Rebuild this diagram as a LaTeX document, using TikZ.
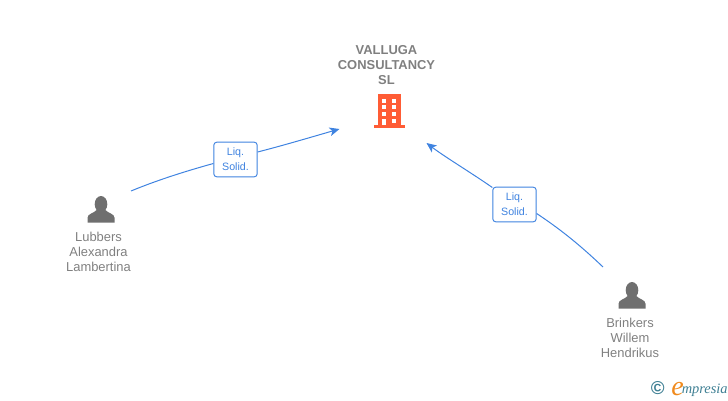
\documentclass[tikz,border=0pt]{standalone}
\usepackage{fontspec}
\setmainfont{Liberation Sans}
\newfontfamily\logofont{Liberation Serif}
\usetikzlibrary{arrows.meta}
\definecolor{linkblue}{HTML}{3F83E0}
\definecolor{labelgrey}{HTML}{808080}
\definecolor{titlegrey}{HTML}{7F7F7F}
\definecolor{persongrey}{HTML}{6F6F6F}
\definecolor{buildorange}{HTML}{FF5C35}
\definecolor{logoteal}{HTML}{3E7F93}
\definecolor{logoorange}{HTML}{F08A1D}
\tikzset{
  px/.style={x=0.75pt,y=-0.75pt},
  link/.style={draw=linkblue,line width=0.75pt},
  linkend/.style={link,-{Stealth[length=7.5pt,width=6.5pt,inset=2pt]}},
  rolebox/.style={draw=linkblue,line width=0.7pt,rounded corners=2.2pt,fill=white,minimum width=32.5pt,minimum height=26pt,inner sep=0pt,align=center,text=linkblue,font=\fontsize{8}{11.2}\selectfont},
  personlabel/.style={align=center,text=labelgrey,inner sep=0pt,font=\fontsize{9.7}{11.2}\selectfont},
  titlelabel/.style={align=center,text=titlegrey,inner sep=0pt,font=\bfseries\fontsize{9.7}{11.2}\selectfont},
  logotext/.style={inner sep=0pt,anchor=base west,text=logoteal},
}
\newcommand{\personicon}[2]{%
  \fill[persongrey,shift={(#1,#2)}] (0,-18.5) ellipse (6.3 and 8.2);
  \fill[persongrey,shift={(#1,#2)}] (-13.5,0) -- (-13.5,-5) .. controls (-13.5,-9) and (-7,-9.5) .. (-4,-13)
    -- (4,-13) .. controls (7,-9.5) and (13.5,-9) .. (13.5,-5) -- (13.5,0) -- cycle;
}
\begin{document}
\begin{tikzpicture}[px]
\useasboundingbox (0,0) rectangle (728,400);
% building
\fill[buildorange] (378,94) rectangle (401,125);
\fill[buildorange] (373.5,125) rectangle (405,128);
\foreach \yy in {98.5,105,112}{
  \fill[white] (381.7,\yy) rectangle +(4.3,4);
  \fill[white] (391.7,\yy) rectangle +(4.3,4);
}
\fill[white] (381.7,118.5) rectangle (386,125);
\fill[white] (391.7,118.5) rectangle (396,122.5);
% title
\node[titlelabel] (company) at (386.5,65) {VALLUGA\\CONSULTANCY\\SL};
% people
\personicon{101}{222.7}
\personicon{632}{308.7}
\node[personlabel] (lubbers) at (98.5,252) {Lubbers\\Alexandra\\Lambertina};
\node[personlabel] (brinkers) at (630,338) {Brinkers\\Willem\\Hendrikus};
% connector ends
\coordinate (lstart) at (131,191);
\coordinate (lend) at (339.5,129);
\coordinate (rstart) at (603,267);
\coordinate (rend) at (426.5,143);
% role boxes
\node[rolebox] (lrole) at (235.5,159.5) {Liq.\\Solid.};
\node[rolebox] (rrole) at (514.5,204.5) {Liq.\\Solid.};
% connectors
\draw[link] (lstart) .. controls (160,179) and (190,170) .. (lrole.west |- 0,163.5);
\draw[linkend] (lrole.east |- 0,152) .. controls (285,145) and (315,136) .. (lend);
\draw[link] (rstart) .. controls (580,245) and (560,229) .. (rrole.east |- 0,213.5);
\draw[linkend] (rrole.west |- 0,187.5) .. controls (470,172) and (445,157) .. (rend);
% logo
\node[text=logoteal,inner sep=0pt,font=\bfseries\fontsize{14}{14}\selectfont] (copy) at (657.7,388.5) {©};
\node[logotext,text=logoorange,font=\logofont\itshape\fontsize{21}{21}\selectfont] (elogo) at (671,395) {e};
\node[logotext,font=\logofont\itshape\fontsize{10.8}{10.8}\selectfont] (wordlogo) at (681.5,393) {mpresia};
\end{tikzpicture}
\end{document}
